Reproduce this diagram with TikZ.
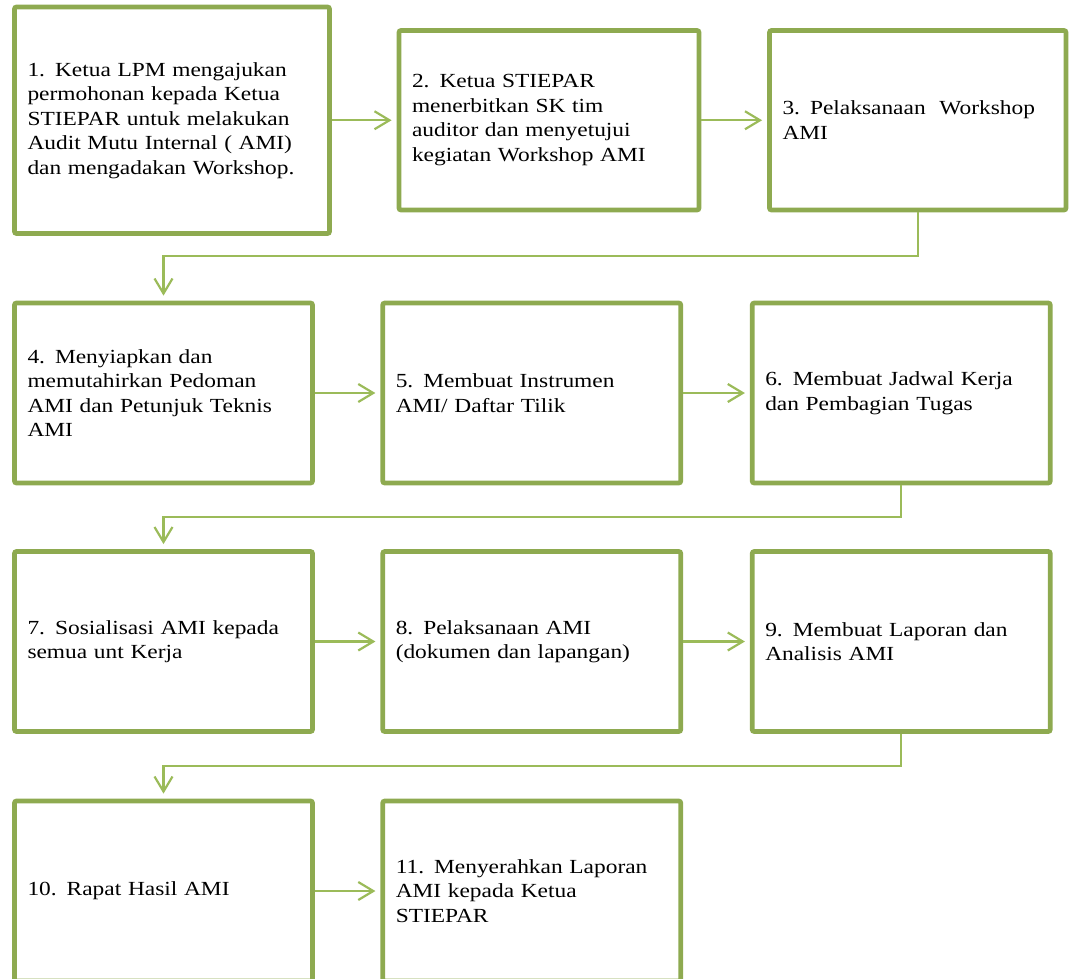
\documentclass[tikz,border=0pt]{standalone}
\usepackage{fontspec}
\setmainfont{Liberation Serif}[FakeStretch=1.17]
\usepackage{xcolor}
\definecolor{boxgreen}{RGB}{142,170,80}
\definecolor{linkgreen}{RGB}{155,187,89}
\usepackage{tikz}
\usetikzlibrary{arrows.meta}

\begin{document}
\begin{tikzpicture}[x=1pt, y=-1pt, font=\fontsize{20}{24.5}\selectfont,
  >={Straight Barb[length=15pt,width=18pt]},
  stage/.style={draw=boxgreen, line width=4.7pt, rounded corners=2pt, inner xsep=13pt,
    align=left, text width=272pt, minimum height=180pt},
  flow/.style={->, draw=linkgreen, line width=2.2pt, shorten >=5pt}]
\useasboundingbox (0,0) rectangle (1069,978);
\clip (0,0) rectangle (1069,978);
% row 1
\node[stage, text width=289pt, minimum height=226.5pt] (b1) at (172,120.25)
  {1. Ketua LPM mengajukan\\ permohonan kepada Ketua\\ STIEPAR untuk melakukan\\ Audit Mutu Internal ( AMI)\\ dan mengadakan Workshop.};
\node[stage, text width=274pt, minimum height=179.5pt] (b2) at (549,120.25)
  {2. Ketua STIEPAR\\ menerbitkan SK tim\\ auditor dan menyetujui\\ kegiatan Workshop AMI};
\node[stage, text width=270.5pt, minimum height=179.5pt] (b3) at (917.75,120.25)
  {3. Pelaksanaan\hspace{7pt} Workshop\\ AMI};
% row 2
\node[stage] (b4) at (163.5,393)
  {4. Menyiapkan dan\\ memutahirkan Pedoman\\ AMI dan Petunjuk Teknis\\ AMI};
\node[stage] (b5) at (531.75,393) {5. Membuat Instrumen\\ AMI/ Daftar Tilik};
\node[stage] (b6) at (901.25,393) {6. Membuat Jadwal Kerja\\ dan Pembagian Tugas};
% row 3
\node[stage] (b7) at (163.5,641.5) {7. Sosialisasi AMI kepada\\ semua unt Kerja};
\node[stage] (b8) at (531.75,641.5) {8. Pelaksanaan AMI\\ (dokumen dan lapangan)};
\node[stage] (b9) at (901.25,641.5) {9. Membuat Laporan dan\\ Analisis AMI};
% row 4
\node[stage] (b10) at (163.5,891) {10. Rapat Hasil AMI};
\node[stage] (b11) at (531.75,891) {11. Menyerahkan Laporan\\ AMI kepada Ketua\\ STIEPAR};

\draw[flow] (b1) -- (b2);
\draw[flow] (b2) -- (b3);
\draw[flow] (b3.south) -- ++(0,44) -| (b4.north);
\draw[flow] (b4) -- (b5);
\draw[flow] (b5) -- (b6);
\draw[flow] (b6.south) -- ++(0,32) -| (b7.north);
\draw[flow] (b7) -- (b8);
\draw[flow] (b8) -- (b9);
\draw[flow] (b9.south) -- ++(0,32) -| (b10.north);
\draw[flow] (b10) -- (b11);
\end{tikzpicture}
\end{document}
